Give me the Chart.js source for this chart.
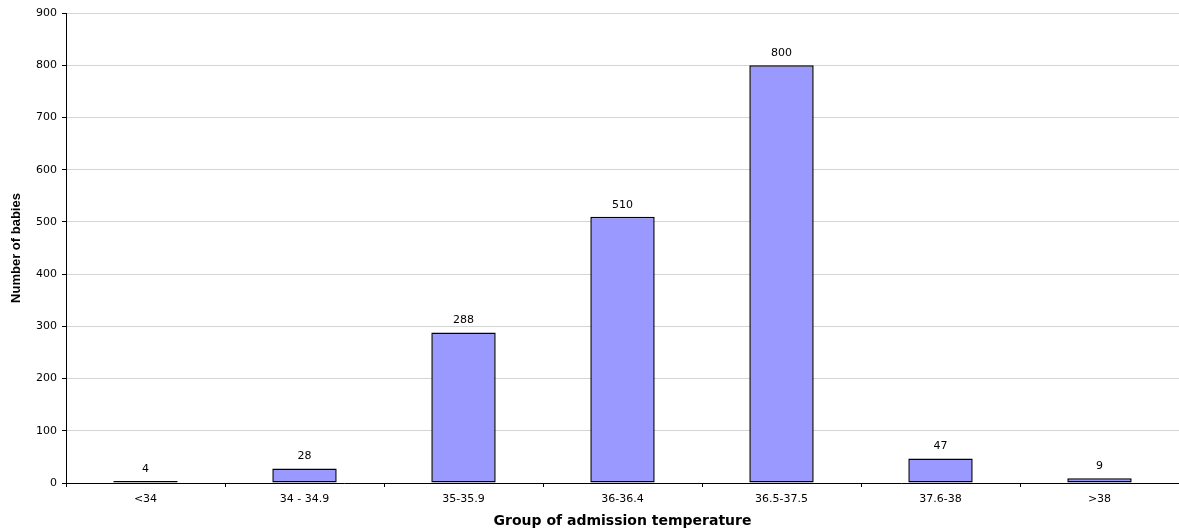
<!DOCTYPE html>
<html>
<head>
<meta charset="utf-8">
<title>Number of babies by admission temperature</title>
<script src="https://cdn.jsdelivr.net/npm/chart.js@4/dist/chart.umd.min.js"></script>
<style>
  html, body { margin: 0; padding: 0; background: #fff; }
  #wrap { width: 1179px; height: 530px; }
</style>
</head>
<body>
<div id="wrap"><canvas id="chart" width="1179" height="530"></canvas></div>
<script>
// Admission temperature groups and baby counts
const categories = ['<34', '34 - 34.9', '35-35.9', '36-36.4', '36.5-37.5', '37.6-38', '>38'];
const babies = [4, 28, 288, 510, 800, 47, 9];
const yMin = 0;
const yMax = 900;
const yStep = 100;

const WIDE = '"DejaVu Sans", Verdana, sans-serif';
const NARROW = 'Arial, "Liberation Sans", Helvetica, sans-serif';

// Writes each bar's value just above it
const valueLabels = {
  id: 'valueLabels',
  afterDatasetsDraw(chart) {
    const ctx = chart.ctx;
    const meta = chart.getDatasetMeta(0);
    ctx.save();
    ctx.font = '11px ' + WIDE;
    ctx.fillStyle = '#000';
    ctx.textAlign = 'center';
    ctx.textBaseline = 'middle';
    meta.data.forEach((bar, i) => {
      ctx.fillText(String(babies[i]), bar.x, bar.y - 12);
    });
    ctx.restore();
  }
};

new Chart(document.getElementById('chart'), {
  type: 'bar',
  data: {
    labels: categories,
    datasets: [{
      data: babies,
      backgroundColor: '#9999FF',
      borderColor: '#000',
      borderWidth: 1.5,
      borderSkipped: false,
      barPercentage: 0.405,
      categoryPercentage: 1.0
    }]
  },
  options: {
    responsive: false,
    animation: false,
    devicePixelRatio: 1,
    layout: { padding: { top: 13, right: 0, bottom: 0, left: 0 } },
    plugins: {
      legend: { display: false },
      tooltip: { enabled: false }
    },
    scales: {
      x: {
        grid: {
          display: true,
          drawOnChartArea: false,
          drawTicks: true,
          tickLength: 4,
          tickColor: '#000',
          offset: true
        },
        border: { display: true, color: '#000', width: 1 },
        ticks: {
          color: '#000',
          font: { family: WIDE, size: 11 },
          padding: 6,
          maxRotation: 0,
          autoSkip: false
        },
        title: {
          display: true,
          text: 'Group of admission temperature',
          color: '#000',
          font: { family: WIDE, size: 14, weight: 'bold', lineHeight: 1.2 },
          padding: { top: 0, bottom: 0 }
        },
        afterFit(scale) { scale.height = 47; }
      },
      y: {
        min: yMin,
        max: yMax,
        ticks: {
          stepSize: yStep,
          color: '#000',
          font: { family: WIDE, size: 11 },
          padding: 5
        },
        grid: {
          color: '#d4d4d4',
          lineWidth: 1,
          drawTicks: true,
          tickLength: 4,
          tickColor: '#000'
        },
        border: { display: true, color: '#000', width: 1 },
        title: {
          display: true,
          text: 'Number of babies',
          color: '#000',
          font: { family: NARROW, size: 13, weight: 'bold', lineHeight: 1.2 },
          padding: { top: 9, bottom: 0 }
        },
        afterFit(scale) { scale.width = 66; }
      }
    }
  },
  plugins: [valueLabels]
});
</script>
</body>
</html>
